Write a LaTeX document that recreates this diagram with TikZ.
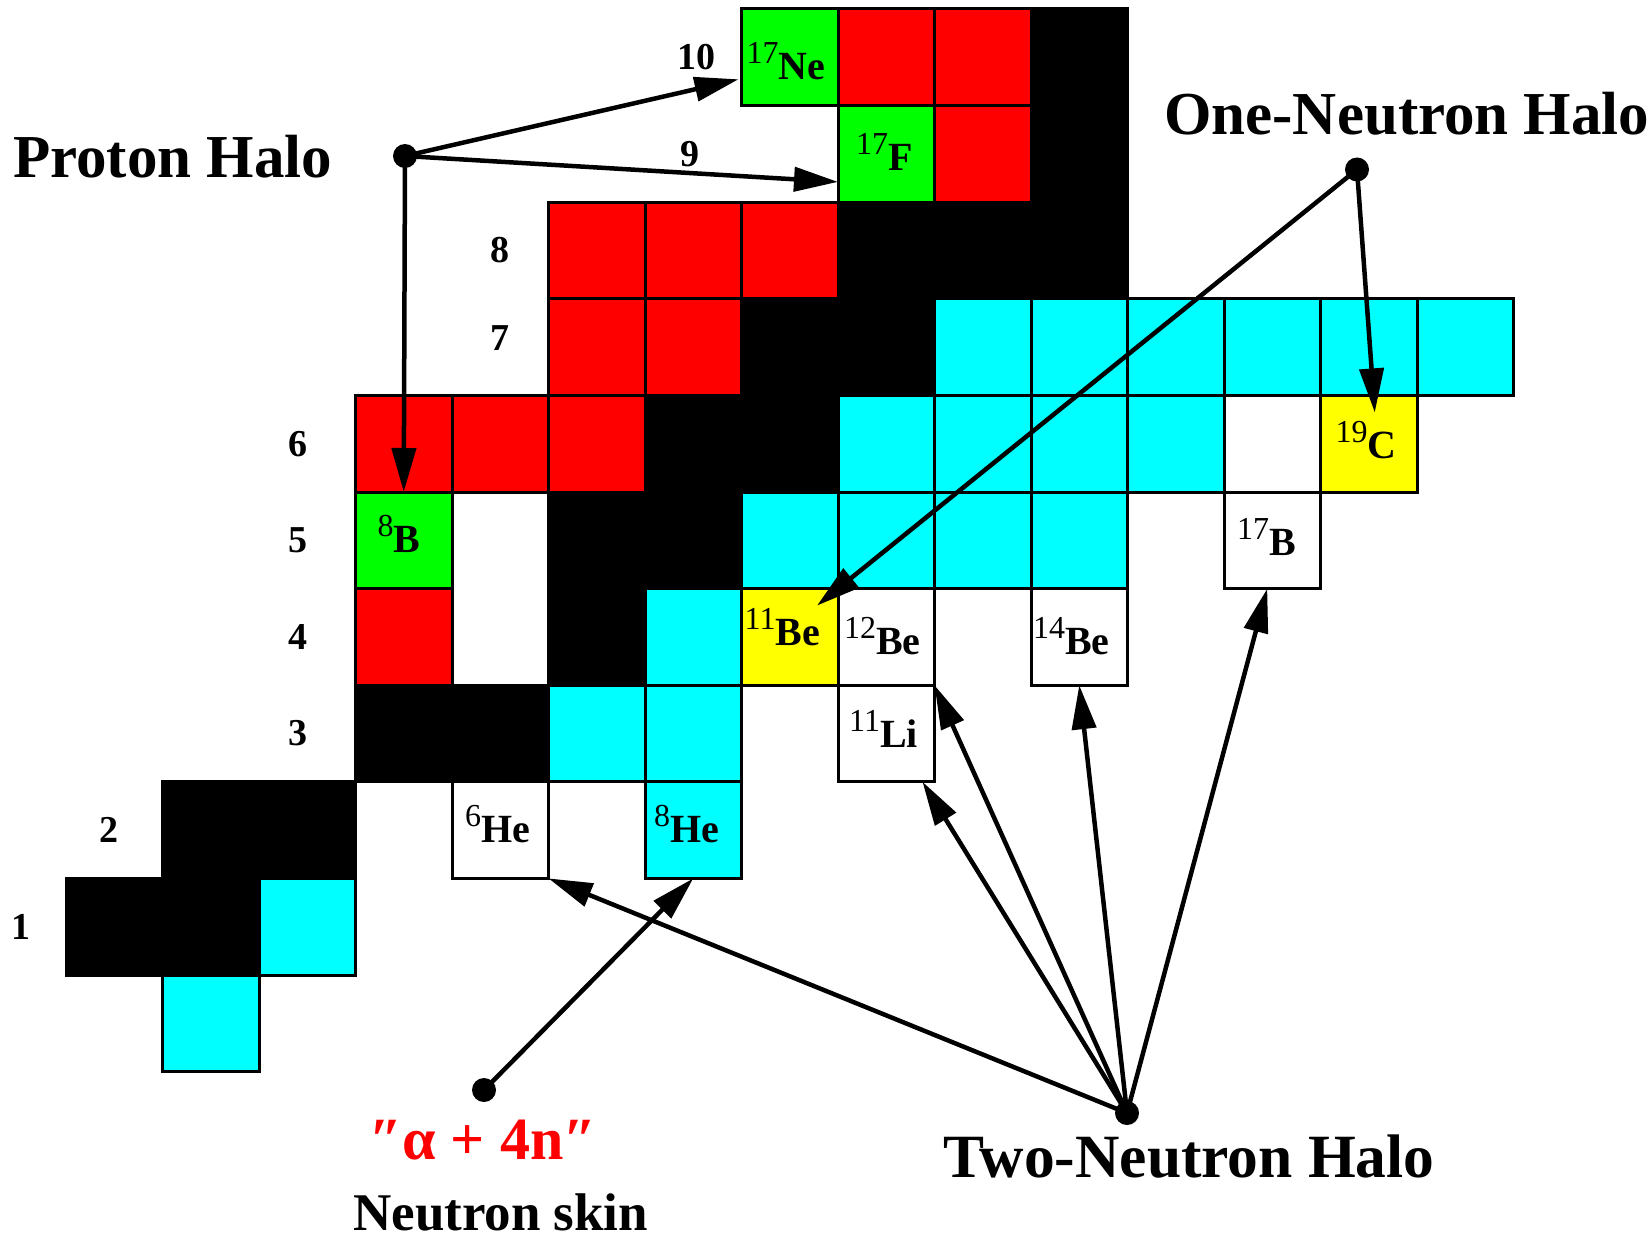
\documentclass[tikz,border=0pt]{standalone}
\usepackage{fontspec}
\setmainfont{Liberation Serif}
\usetikzlibrary{arrows.meta,calc}

\definecolor{pred}{HTML}{FF0000}
\definecolor{pgreen}{HTML}{00FF00}
\definecolor{ncyan}{HTML}{00FFFF}
\definecolor{hyellow}{HTML}{FFFF00}

% one nuclide square: N, Z, style, name
\newcommand\nucl[4]{\node[#3] (#4) at ({66+96.5*(#1+0.5)},{1071.6-96.6*(#2+0.5)}) {};}
% mass number as superscript before the element symbol
\newcommand\isotxt[2]{\raisebox{16pt}{\fontsize{32}{32}\selectfont #1}{\fontsize{40}{40}\selectfont\bfseries #2}}
% label inside a named square: name, dx, dy (to baseline), A, symbol
\newcommand\isolab[5]{\node[anchor=base west, inner sep=0pt] (t#1) at ($(#1.north west)+(#2,#3)$) {\isotxt{#4}{#5}};}

\begin{document}
\begin{tikzpicture}[x=1pt,y=-1pt,
  cell/.style={draw=black, line width=3pt, minimum width=96.5pt, minimum height=96.6pt,
               inner sep=0pt, outer sep=0pt},
  stable/.style={cell, fill=black},
  bminus/.style={cell, fill=ncyan},
  bplus/.style={cell, fill=pred},
  phalo/.style={cell, fill=pgreen},
  onehalo/.style={cell, fill=hyellow},
  twohalo/.style={cell, fill=white},
  dot/.style={circle, fill=black, inner sep=0pt, minimum size=24pt},
  arr/.style={line width=4.5pt, -{Triangle[length=44pt,width=24pt]}},
  rownum/.style={font=\fontsize{38}{38}\selectfont\bfseries, inner sep=0pt},
  title/.style={anchor=base west, inner sep=0pt, font=\bfseries}]

\fill[white] (0,0) rectangle (1652,1236);
\useasboundingbox (0,0) rectangle (1652,1236);

% stable nuclides
\nucl{0}{1}{stable}{H1}
\nucl{1}{1}{stable}{H2}
\nucl{1}{2}{stable}{He3}
\nucl{2}{2}{stable}{He4}
\nucl{3}{3}{stable}{Li6}
\nucl{4}{3}{stable}{Li7}
\nucl{5}{4}{stable}{Be9}
\nucl{5}{5}{stable}{B10}
\nucl{6}{5}{stable}{B11}
\nucl{6}{6}{stable}{C12}
\nucl{7}{6}{stable}{C13}
\nucl{7}{7}{stable}{N14}
\nucl{8}{7}{stable}{N15}
\nucl{8}{8}{stable}{O16}
\nucl{9}{8}{stable}{O17}
\nucl{10}{8}{stable}{O18}
\nucl{10}{9}{stable}{F19}
\nucl{10}{10}{stable}{Ne20}

% neutron-rich
\nucl{1}{0}{bminus}{n1}
\nucl{2}{1}{bminus}{H3}
\nucl{5}{3}{bminus}{Li8}
\nucl{6}{3}{bminus}{Li9}
\nucl{6}{4}{bminus}{Be10}
\nucl{7}{5}{bminus}{B12}
\nucl{8}{5}{bminus}{B13}
\nucl{9}{5}{bminus}{B14}
\nucl{10}{5}{bminus}{B15}
\nucl{8}{6}{bminus}{C14}
\nucl{9}{6}{bminus}{C15}
\nucl{10}{6}{bminus}{C16}
\nucl{11}{6}{bminus}{C17}
\nucl{9}{7}{bminus}{N16}
\nucl{10}{7}{bminus}{N17}
\nucl{11}{7}{bminus}{N18}
\nucl{12}{7}{bminus}{N19}
\nucl{13}{7}{bminus}{N20}
\nucl{14}{7}{bminus}{N21}
\nucl{6}{2}{bminus}{He8}

% proton-rich
\nucl{3}{4}{bplus}{Be7}
\nucl{3}{6}{bplus}{C9}
\nucl{4}{6}{bplus}{C10}
\nucl{5}{6}{bplus}{C11}
\nucl{5}{7}{bplus}{N12}
\nucl{6}{7}{bplus}{N13}
\nucl{5}{8}{bplus}{O13}
\nucl{6}{8}{bplus}{O14}
\nucl{7}{8}{bplus}{O15}
\nucl{9}{9}{bplus}{F18}
\nucl{8}{10}{bplus}{Ne18}
\nucl{9}{10}{bplus}{Ne19}

% proton halos
\nucl{3}{5}{phalo}{B8}
\nucl{8}{9}{phalo}{F17}
\nucl{7}{10}{phalo}{Ne17}

% one-neutron halos
\nucl{7}{4}{onehalo}{Be11}
\nucl{13}{6}{onehalo}{C19}

% two-neutron halos
\nucl{4}{2}{twohalo}{He6}
\nucl{8}{3}{twohalo}{Li11}
\nucl{8}{4}{twohalo}{Be12}
\nucl{10}{4}{twohalo}{Be14}
\nucl{12}{5}{twohalo}{B17}

% proton number of each row
\node[rownum] (z1) at (21,926.7) {1};
\node[rownum] (z2) at (108.5,830.1) {2};
\node[rownum] (z3) at (298,733.5) {3};
\node[rownum] (z4) at (298,636.9) {4};
\node[rownum] (z5) at (298,540.3) {5};
\node[rownum] (z6) at (298,443.7) {6};
\node[rownum] (z7) at (500,338) {7};
\node[rownum] (z8) at (500,250.5) {8};
\node[rownum] (z9) at (690,153.9) {9};
\node[rownum] (z10) at (696,57.3) {10};

% group markers
\node[dot] (PH) at (405,156) {};
\node[dot] (ONH) at (1357,169.5) {};
\node[dot] (TNH) at (1127,1113) {};
\node[dot] (AN) at (484,1090) {};

% connectors
\draw[arr] (PH.center) -- ($(Ne17.west)+(-3,22)$);
\draw[arr] (PH.center) -- ($(F17.west)+(0,28)$);
\draw[arr] (PH.center) -- (B8.north);
\draw[arr] (ONH.center) -- ($(Be11.north east)+(-21,17)$);
\draw[arr] (ONH.center) -- ($(C19.north)+(6,17)$);
\draw[arr] (TNH.center) -- (He6.south east);
\draw[arr] (TNH.center) -- ($(Li11.south east)+(-12,0)$);
\draw[arr] (TNH.center) -- (Be12.south east);
\draw[arr] (TNH.center) -- (Be14.south);
\draw[arr] (TNH.center) -- ($(B17.south)+(-5,0)$);
\draw[arr] (AN.center) -- (He8.south);

% nuclide labels
\isolab{Ne17}{5}{71}{17}{Ne}
\isolab{F17}{18}{65}{17}{F}
\isolab{B8}{22}{60}{8}{B}
\isolab{Be11}{3}{57}{11}{Be}
\isolab{Be12}{6}{66}{12}{Be}
\isolab{Be14}{2}{66}{14}{Be}
\isolab{Li11}{11}{62}{11}{Li}
\isolab{He6}{13}{61}{6}{He}
\isolab{He8}{9}{61}{8}{He}
\isolab{C19}{15}{63}{19}{C}
\isolab{B17}{13}{63}{17}{B}

% group titles
\node[title, font=\fontsize{61}{61}\selectfont\bfseries] (tPH) at (13,177) {Proton Halo};
\node[title, font=\fontsize{61}{61}\selectfont\bfseries] (tONH) at (1164,135) {One-Neutron Halo};
\node[title, font=\fontsize{61.5}{61.5}\selectfont\bfseries] (tTNH) at (943,1177) {Two-Neutron Halo};
\node[title, text=pred, font=\fontsize{60}{60}\selectfont\bfseries] (tAN) at (369,1159) {″α + 4n″};
\node[title, font=\fontsize{53}{53}\selectfont\bfseries] (tskin) at (353,1230) {Neutron skin};
\end{tikzpicture}
\end{document}
